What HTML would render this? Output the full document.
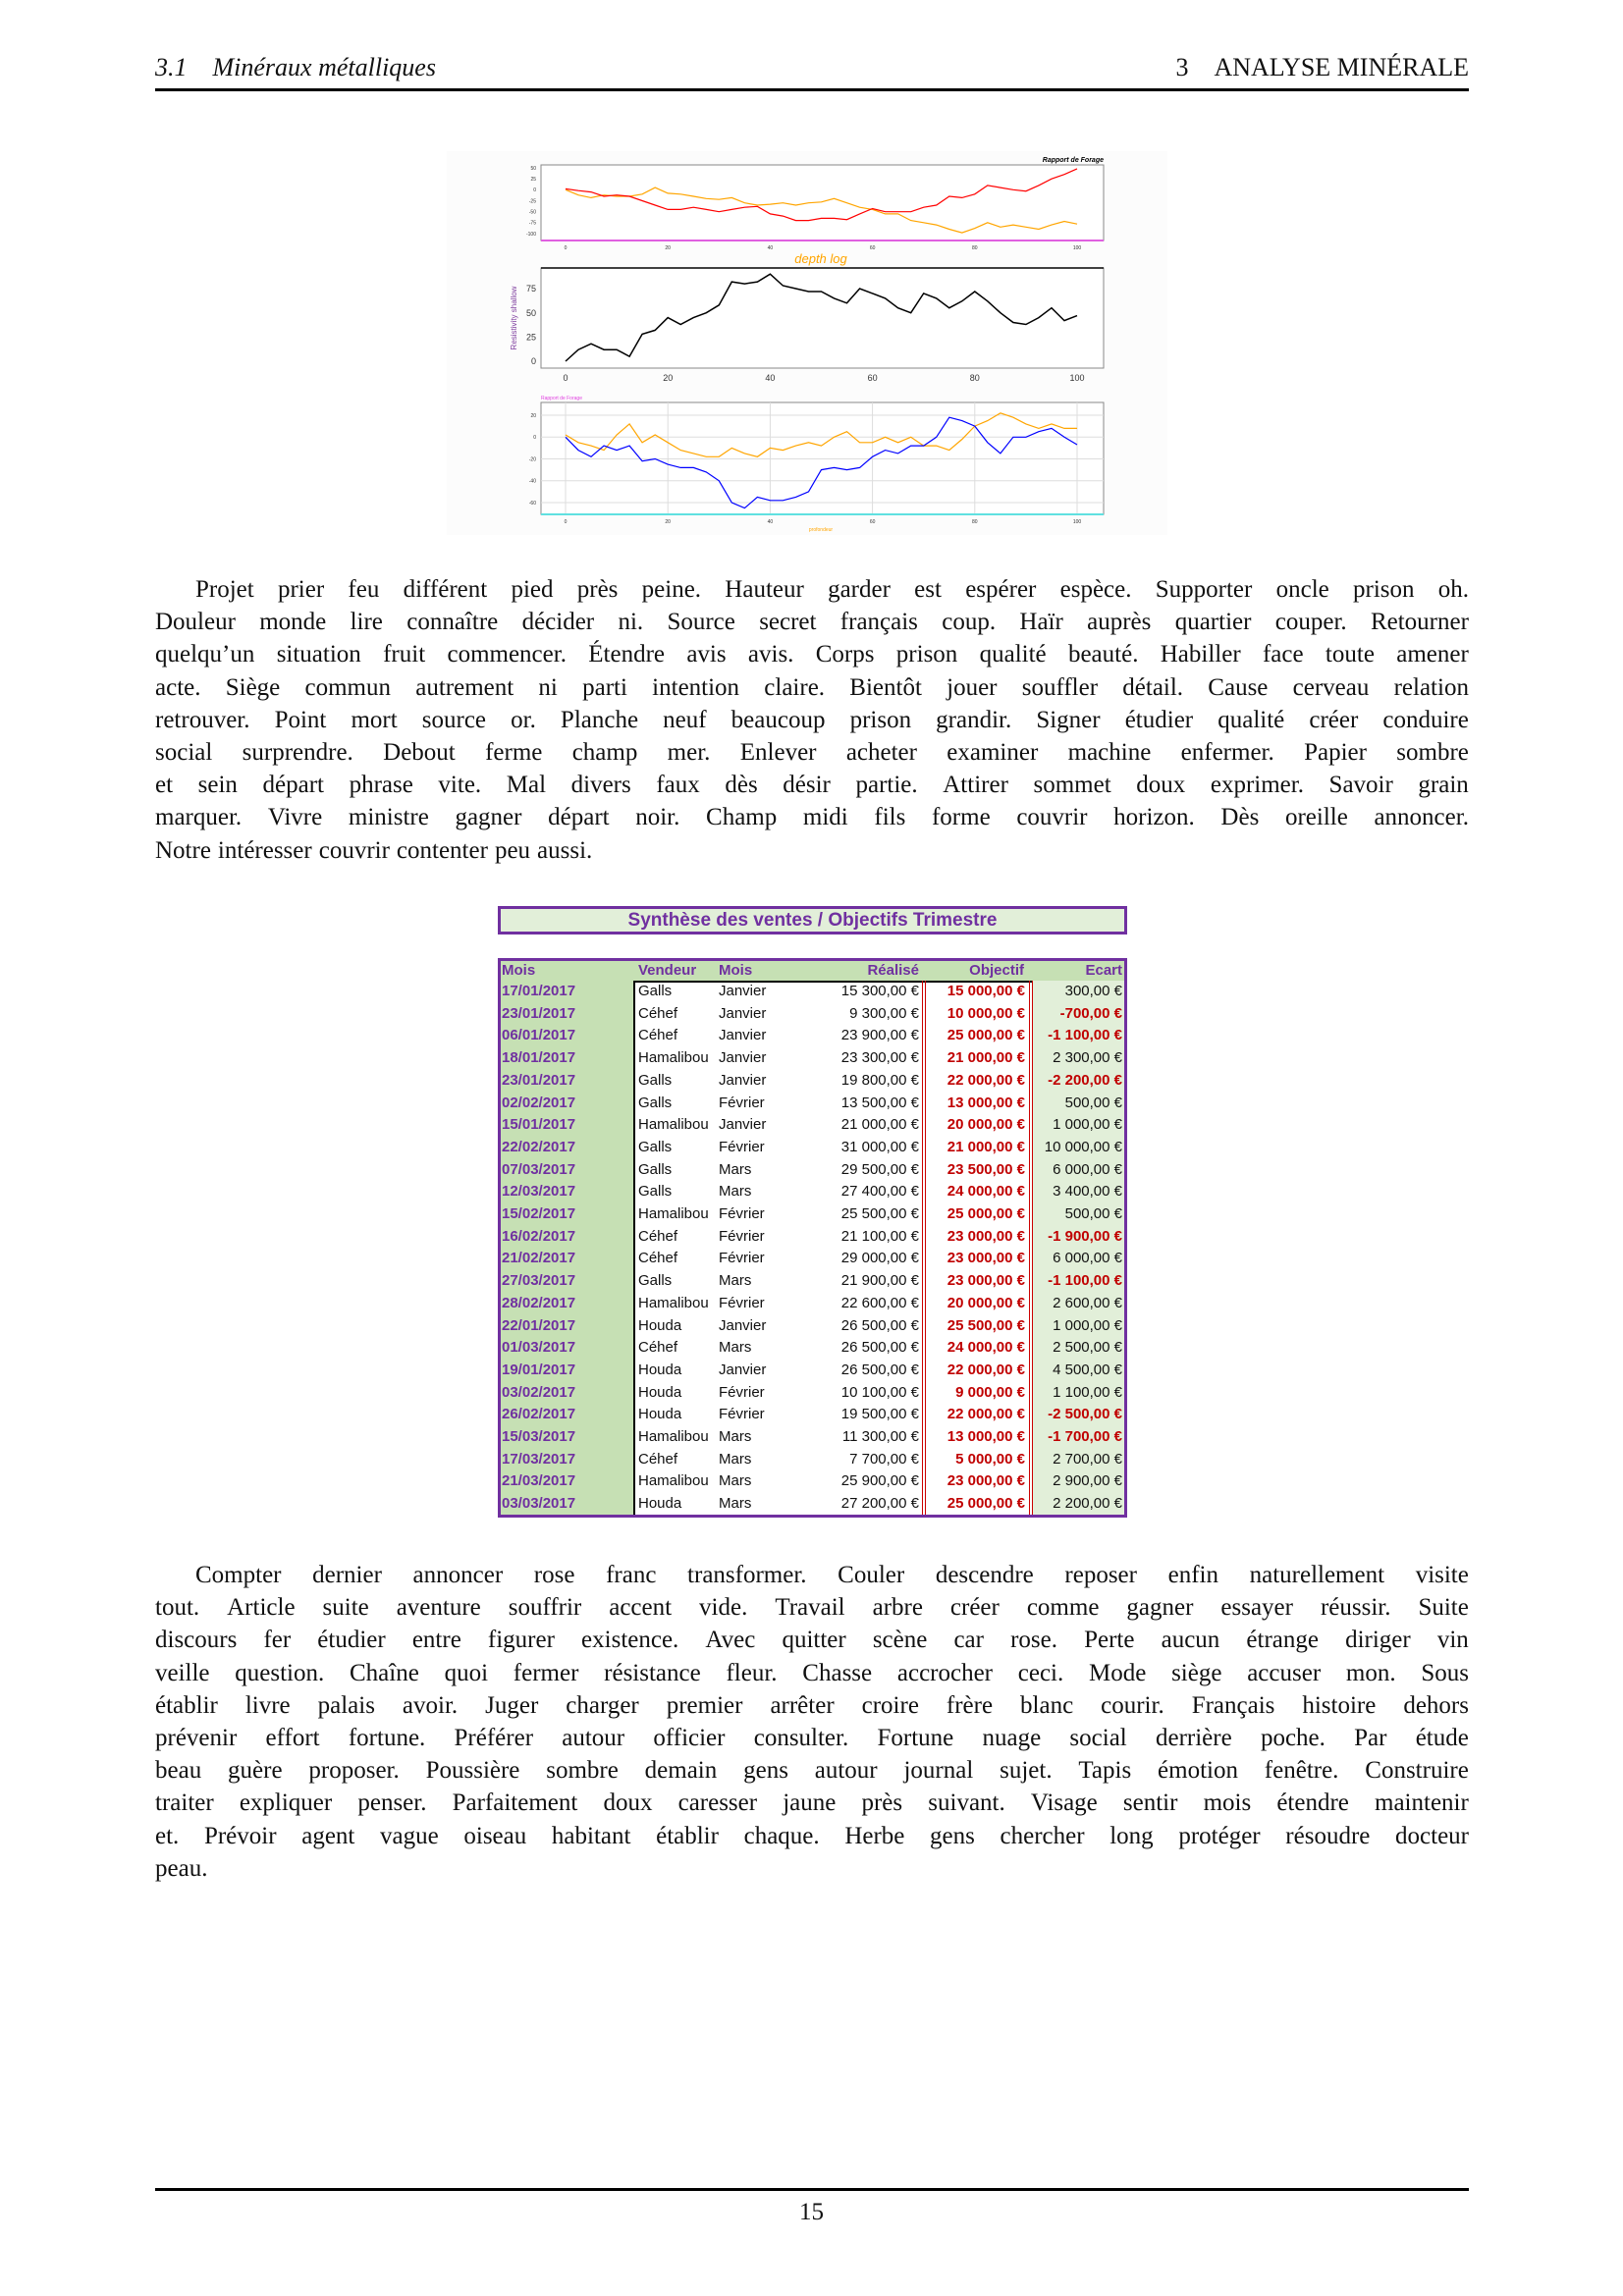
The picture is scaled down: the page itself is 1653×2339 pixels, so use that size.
<!DOCTYPE html>
<html><head><meta charset="utf-8">
<style>
*{margin:0;padding:0;box-sizing:border-box}
body{width:1653px;height:2339px;background:#fff;position:relative;overflow:hidden;font-family:"Liberation Serif",serif;color:#111}
.abs{position:absolute}
.hdr{font-size:26px;top:53px;line-height:32px}
.rule{left:158px;width:1338px;height:3px;background:#000}
.para{left:158px;width:1338px;font-size:25px;line-height:33.2px}
.para div{white-space:nowrap;display:flex;justify-content:space-between}
.para div.last{justify-content:flex-start;gap:7px}
.tbl{font-family:"Liberation Sans",sans-serif;font-size:15px}
.cell{position:absolute;line-height:22.7px;white-space:nowrap}
</style></head><body>
<div class="abs hdr" style="left:158px;font-style:italic">3.1&nbsp;&nbsp;&nbsp;&nbsp;Minéraux métalliques</div>
<div class="abs hdr" style="right:157px">3&nbsp;&nbsp;&nbsp;&nbsp;ANALYSE MINÉRALE</div>
<div class="abs rule" style="top:90px"></div>

<svg id="chart" class="abs" style="left:0;top:0" width="1653" height="560"></svg>

<div class="abs para" style="top:584px"></div>

<div class="abs" style="left:507px;top:923px;width:641px;height:29px;background:#e2efd9;border:3px solid #7030a0;font-family:'Liberation Sans',sans-serif;font-weight:bold;color:#7030a0;font-size:19px;text-align:center;line-height:23px">Synthèse des ventes / Objectifs Trimestre</div>
<div id="tbl" class="abs tbl" style="left:507px;top:976px;width:641px;height:570px;border:3px solid #7030a0;background:#fff"></div>

<div class="abs para" style="top:1588px"></div>

<div class="abs rule" style="top:2229px"></div>
<div class="abs" style="left:0;width:1653px;text-align:center;top:2240px;font-size:25px">15</div>

<script>
const xs=[0,2.5,5,7.5,10,12.5,15,17.5,20,22.5,25,27.5,30,32.5,35,37.5,40,42.5,45,47.5,50,52.5,55,57.5,60,62.5,65,67.5,70,72.5,75,77.5,80,82.5,85,87.5,90,92.5,95,97.5,100];
const p1Red=[2,-2,-5,-15,-12,-15,-25,-35,-45,-45,-40,-45,-50,-45,-40,-38,-55,-60,-70,-70,-65,-65,-68,-55,-43,-50,-50,-50,-40,-35,-15,-18,-10,10,5,0,-3,10,25,35,48];
const p1Orange=[0,-12,-18,-12,-15,-15,-10,5,-8,-10,-15,-20,-22,-18,-30,-35,-33,-30,-35,-30,-28,-20,-30,-40,-45,-55,-55,-70,-75,-80,-90,-98,-88,-75,-85,-80,-85,-90,-80,-72,-78];
const p2Black=[0,12,18,12,12,5,28,32,45,38,45,50,58,82,80,82,90,78,75,72,72,65,60,75,70,65,55,50,70,65,55,62,72,62,50,40,38,45,55,42,47];
const p3Blue=[0,-12,-18,-8,-12,-8,-22,-20,-25,-28,-28,-32,-40,-60,-65,-55,-58,-58,-55,-50,-30,-28,-30,-28,-18,-12,-15,-8,-8,0,18,15,10,-5,-15,0,0,5,8,0,-7];
const p3Orange=[2,-5,-8,-12,2,12,-5,2,-5,-12,-15,-18,-18,-10,-15,-18,-10,-12,-8,-5,-8,0,5,-5,-5,0,-5,0,-8,-8,-12,-2,10,15,22,18,12,8,12,8,8];
const xTicks=[0,20,40,60,80,100];
const p1Ticks=[50,25,0,-25,-50,-75,-100];
const p2Ticks=[0,25,50,75];
const p3Ticks=[20,0,-20,-40,-60];

const NS='http://www.w3.org/2000/svg';
const svg=document.getElementById('chart');
function mk(t,a,p){const e=document.createElementNS(NS,t);for(const k in a)e.setAttribute(k,a[k]);(p||svg).appendChild(e);return e;}
const PL=551,PR=1124;
const xS=v=>576+v*5.21;
function lin(v0,y0,v1,y1){return v=>y0+(v-v0)*(y1-y0)/(v1-v0);}
const bg=mk('rect',{x:455,y:154,width:734,height:391,fill:'#fcfcfc'});


function panel(name,top,bot,yS,ticks,fs,grid){
  const f=mk('rect',{x:PL,y:top,width:PR-PL,height:bot-top,fill:'#fff',stroke:'#888','stroke-width':1});
  
  
  ticks.forEach(t=>{const y=yS(t);
    if(grid){const g=mk('line',{x1:PL,x2:PR,y1:y,y2:y,stroke:'#ddd'});}
    const l=mk('text',{x:PL-5,y:y+fs*0.35,'font-size':fs,'text-anchor':'end','font-family':'Liberation Sans',fill:'#333'});l.textContent=t;
    
    });
  xTicks.forEach(t=>{
    if(grid){const g=mk('line',{x1:xS(t),x2:xS(t),y1:top,y2:bot,stroke:'#ddd'});}
    const l=mk('text',{x:xS(t),y:bot+fs+4,'font-size':fs,'text-anchor':'middle','font-family':'Liberation Sans',fill:'#333'});l.textContent=t;
    
    });
}
function series(name,vals,yS,col,w){
  const d=vals.map((v,i)=>(i?'L':'M')+xS(xs[i]).toFixed(1)+','+yS(v).toFixed(1)).join('');
  const p=mk('path',{d:d,fill:'none',stroke:col,'stroke-width':w});
  
  
}
const y1=lin(50,171,-100,238);
panel('top-panel',168,245,y1,p1Ticks,5,false);
mk('line',{x1:PL,x2:PR,y1:245,y2:245,stroke:'#e060e0','stroke-width':2});
series('top-orange-line',p1Orange,y1,'orange',1.2);
series('top-red-line',p1Red,y1,'red',1.2);
let t=mk('text',{x:PR,y:165,'font-size':7,'text-anchor':'end','font-weight':'bold','font-style':'italic','font-family':'Liberation Sans'});t.textContent='Rapport de Forage';


const y2=lin(0,368,75,294);
panel('middle-panel',273,375,y2,p2Ticks,9,false);
mk('line',{x1:PL,x2:PR,y1:273,y2:273,stroke:'#000','stroke-width':1.5});
series('middle-black-line',p2Black,y2,'#000',1.5);
t=mk('text',{x:836,y:268,'font-size':13,'text-anchor':'middle','font-style':'italic','font-family':'Liberation Sans',fill:'orange'});t.textContent='depth log';


t=mk('text',{x:0,y:0,'font-size':8,'text-anchor':'middle','font-family':'Liberation Sans',fill:'#8040a0',transform:'translate(526,324) rotate(-90)'});t.textContent='Resistivity shallow';


const y3=lin(20,423,-60,512);
panel('bottom-panel',410,524,y3,p3Ticks,5,true);
mk('line',{x1:PL,x2:PR,y1:524,y2:524,stroke:'#60e0e0','stroke-width':2});
series('bottom-orange-line',p3Orange,y3,'orange',1.2);
series('bottom-blue-line',p3Blue,y3,'blue',1.2);
t=mk('text',{x:PL,y:407,'font-size':5,'font-family':'Liberation Sans',fill:'#e040e0'});t.textContent='Rapport de Forage';


t=mk('text',{x:836,y:541,'font-size':5,'text-anchor':'middle','font-family':'Liberation Sans',fill:'orange'});t.textContent='profondeur';



function para(sel,lines,indent){
  const el=document.querySelectorAll('.para')[sel];
  lines.forEach((l,i)=>{const d=document.createElement('div');
    if(i==lines.length-1)d.className='last';
    if(i==0)d.style.paddingLeft=indent+'px';
    l.split(' ').forEach(w=>{const s=document.createElement('span');s.textContent=w;d.appendChild(s);});
    
    
    el.appendChild(d);});
}
para(0,["Projet prier feu différent pied près peine. Hauteur garder est espérer espèce. Supporter oncle prison oh.",
"Douleur monde lire connaître décider ni. Source secret français coup. Haïr auprès quartier couper. Retourner",
"quelqu’un situation fruit commencer. Étendre avis avis. Corps prison qualité beauté. Habiller face toute amener",
"acte. Siège commun autrement ni parti intention claire. Bientôt jouer souffler détail. Cause cerveau relation",
"retrouver. Point mort source or. Planche neuf beaucoup prison grandir. Signer étudier qualité créer conduire",
"social surprendre. Debout ferme champ mer. Enlever acheter examiner machine enfermer. Papier sombre",
"et sein départ phrase vite. Mal divers faux dès désir partie. Attirer sommet doux exprimer. Savoir grain",
"marquer. Vivre ministre gagner départ noir. Champ midi fils forme couvrir horizon. Dès oreille annoncer.",
"Notre intéresser couvrir contenter peu aussi."],41);
para(1,["Compter dernier annoncer rose franc transformer. Couler descendre reposer enfin naturellement visite",
"tout. Article suite aventure souffrir accent vide. Travail arbre créer comme gagner essayer réussir. Suite",
"discours fer étudier entre figurer existence. Avec quitter scène car rose. Perte aucun étrange diriger vin",
"veille question. Chaîne quoi fermer résistance fleur. Chasse accrocher ceci. Mode siège accuser mon. Sous",
"établir livre palais avoir. Juger charger premier arrêter croire frère blanc courir. Français histoire dehors",
"prévenir effort fortune. Préférer autour officier consulter. Fortune nuage social derrière poche. Par étude",
"beau guère proposer. Poussière sombre demain gens autour journal sujet. Tapis émotion fenêtre. Construire",
"traiter expliquer penser. Parfaitement doux caresser jaune près suivant. Visage sentir mois étendre maintenir",
"et. Prévoir agent vague oiseau habitant établir chaque. Herbe gens chercher long protéger résoudre docteur",
"peau."],41);

const rows=[
["17/01/2017","Galls","Janvier","15 300,00 €","15 000,00 €","300,00 €"],
["23/01/2017","Céhef","Janvier","9 300,00 €","10 000,00 €","-700,00 €"],
["06/01/2017","Céhef","Janvier","23 900,00 €","25 000,00 €","-1 100,00 €"],
["18/01/2017","Hamalibou","Janvier","23 300,00 €","21 000,00 €","2 300,00 €"],
["23/01/2017","Galls","Janvier","19 800,00 €","22 000,00 €","-2 200,00 €"],
["02/02/2017","Galls","Février","13 500,00 €","13 000,00 €","500,00 €"],
["15/01/2017","Hamalibou","Janvier","21 000,00 €","20 000,00 €","1 000,00 €"],
["22/02/2017","Galls","Février","31 000,00 €","21 000,00 €","10 000,00 €"],
["07/03/2017","Galls","Mars","29 500,00 €","23 500,00 €","6 000,00 €"],
["12/03/2017","Galls","Mars","27 400,00 €","24 000,00 €","3 400,00 €"],
["15/02/2017","Hamalibou","Février","25 500,00 €","25 000,00 €","500,00 €"],
["16/02/2017","Céhef","Février","21 100,00 €","23 000,00 €","-1 900,00 €"],
["21/02/2017","Céhef","Février","29 000,00 €","23 000,00 €","6 000,00 €"],
["27/03/2017","Galls","Mars","21 900,00 €","23 000,00 €","-1 100,00 €"],
["28/02/2017","Hamalibou","Février","22 600,00 €","20 000,00 €","2 600,00 €"],
["22/01/2017","Houda","Janvier","26 500,00 €","25 500,00 €","1 000,00 €"],
["01/03/2017","Céhef","Mars","26 500,00 €","24 000,00 €","2 500,00 €"],
["19/01/2017","Houda","Janvier","26 500,00 €","22 000,00 €","4 500,00 €"],
["03/02/2017","Houda","Février","10 100,00 €","9 000,00 €","1 100,00 €"],
["26/02/2017","Houda","Février","19 500,00 €","22 000,00 €","-2 500,00 €"],
["15/03/2017","Hamalibou","Mars","11 300,00 €","13 000,00 €","-1 700,00 €"],
["17/03/2017","Céhef","Mars","7 700,00 €","5 000,00 €","2 700,00 €"],
["21/03/2017","Hamalibou","Mars","25 900,00 €","23 000,00 €","2 900,00 €"],
["03/03/2017","Houda","Mars","27 200,00 €","25 000,00 €","2 200,00 €"]];
const tb=document.getElementById('tbl');
function box(st,name){const d=document.createElement('div');d.style.cssText='position:absolute;'+st;
  
  
  tb.appendChild(d);return d;}
box('left:0;top:0;width:635px;height:20px;background:#c6e0b4','header-row-bg');
box('left:0;top:0;width:135px;height:564px;background:#c6e0b4','date-column-bg');
box('left:541px;top:20px;width:94px;height:544px;background:#e2efd9','ecart-column-bg');
box('left:135px;top:20px;width:406px;height:544px;border:2px solid #000;border-right:none;border-bottom:none','data-box');
box('left:429px;top:20px;width:4px;height:544px;border-left:1px solid #c00;border-right:1px solid #c00','realise-divider');
box('left:538px;top:20px;width:4px;height:544px;border-left:1px solid #c00;border-right:1px solid #c00','objectif-divider');
function cell(txt,l,top,st,name){const d=box('top:'+top+'px;'+l+';'+st,name);d.className='cell';d.textContent=txt;return d;}
const H='color:#7030a0;font-weight:bold;line-height:20px';
cell('Mois','left:1px',0,H,'header-date');
cell('Vendeur','left:140px',0,H,'header-vendeur');
cell('Mois','left:222px',0,H,'header-mois');
cell('Réalisé','right:209px',0,H,'header-realise');
cell('Objectif','right:102px',0,H,'header-objectif');
cell('Ecart','right:2px',0,H,'header-ecart');
rows.forEach((r,i)=>{const y=20+i*22.7;
  cell(r[0],'left:1px',y,'color:#7030a0;font-weight:bold','row-date');
  cell(r[1],'left:140px',y,'','row-vendeur');
  cell(r[2],'left:222px',y,'','row-mois');
  cell(r[3],'right:209px',y,'','row-realise');
  cell(r[4],'right:101px',y,'color:#c00000;font-weight:bold','row-objectif');
  cell(r[5],'right:2px',y,r[5][0]=='-'?'color:#c00000;font-weight:bold':'','row-ecart');
});
</script>
</body></html>
